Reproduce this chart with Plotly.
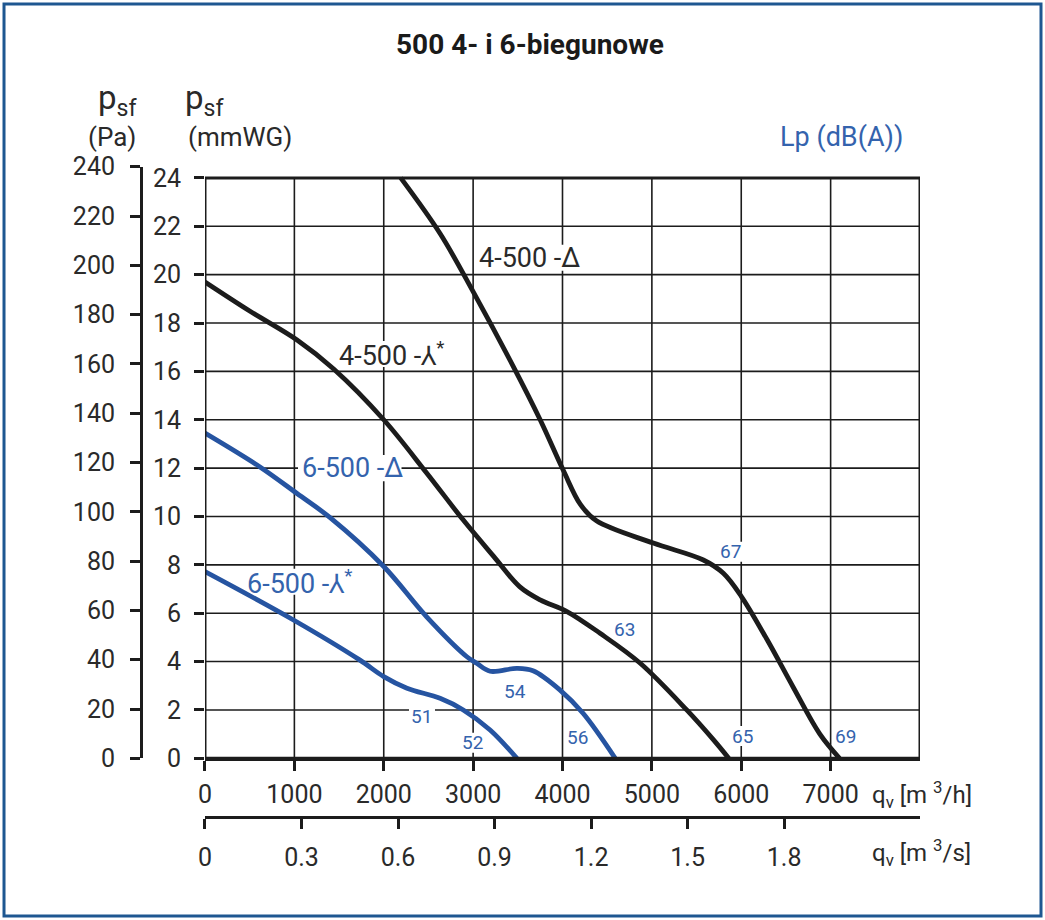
import plotly.graph_objects as go

# 4-500 delta (black, upper curve)
q_4d = [2190, 2630, 3000, 3450, 3750, 4010, 4200, 4380, 5016, 5576, 5800, 6000, 6290, 6580, 6880, 7100]
p_4d = [24, 21.7, 19.3, 16.2, 14.0, 11.9, 10.5, 9.82, 8.9, 8.2, 7.65, 6.7, 4.9, 2.95, 1.0, 0]

# 4-500 star (black, middle curve)
q_4y = [0, 500, 1030, 1440, 2000, 2480, 2890, 3230, 3520, 3750, 4050, 4420, 4870, 5390, 5690, 5860]
p_4y = [19.7, 18.5, 17.3, 16.1, 14.0, 11.8, 9.85, 8.35, 7.1, 6.55, 6.07, 5.17, 3.93, 2.0, 0.76, 0]

# 6-500 delta (blue, upper)
q_6d = [0, 615, 1030, 1400, 2000, 2480, 2930, 3040, 3190, 3490, 3670, 3970, 4230, 4590]
p_6d = [13.45, 12.05, 10.95, 9.95, 7.93, 5.85, 4.2, 3.93, 3.6, 3.72, 3.62, 2.83, 1.86, 0]

# 6-500 star (blue, lower)
q_6y = [0, 990, 1730, 2000, 2260, 2630, 2890, 3190, 3490]
p_6y = [7.72, 5.72, 4.07, 3.38, 2.9, 2.48, 2.0, 1.17, 0]

# sound level labels Lp dB(A)
lp_vals = ["67", "63", "54", "56", "51", "52", "65", "69"]
lp_q = [5875, 4689, 3469, 4163, 2428, 2988, 6009, 7162]
lp_p = [8.54, 5.31, 2.78, 0.84, 1.71, 0.64, 0.92, 0.92]

curve_names = ["4-500 -Δ", "4-500 -⅄<sup>*</sup>", "6-500 -Δ", "6-500 -⅄<sup>*</sup>"]
curve_chars = [8, 9, 8, 9]
curve_name_q = [3040, 1480, 1063, 448]
curve_name_p = [20.7, 16.72, 12.0, 7.3]

mmwg_ticks = list(range(0, 25, 2))
pa_ticks = list(range(0, 241, 20))
qh_ticks = list(range(0, 7001, 1000))
qs_ticks = [0, 0.3, 0.6, 0.9, 1.2, 1.5, 1.8]
qs_text = ["0", "0.3", "0.6", "0.9", "1.2", "1.5", "1.8"]

Q_MAX = 8000
P_MAX = 24
PA_PER_MMWG = 9.81
Q_PER_PX = Q_MAX / 715.0
P_PER_PX = 1 / 24.17

BLACK = "#1c1c1c"
BLUE = "#2654a1"
TXT_BLUE = "#3463ad"
TXT = "#2a2a2a"
FONT = "Roboto"

fig = go.Figure()
for q, p, c in [(q_4d, p_4d, BLACK), (q_4y, p_4y, BLACK), (q_6d, p_6d, BLUE), (q_6y, p_6y, BLUE)]:
    fig.add_trace(go.Scatter(x=q, y=p, mode="lines",
                             line=dict(color=c, width=4.8, shape="spline", smoothing=1.0),
                             hoverinfo="skip", showlegend=False))

# dummy traces so the extra (overlaid) axes get drawn
fig.add_trace(go.Scatter(x=[None], y=[None], yaxis="y2", showlegend=False, hoverinfo="skip"))
fig.add_trace(go.Scatter(x=[None], y=[None], xaxis="x2", showlegend=False, hoverinfo="skip"))

axis_common = dict(linecolor=BLACK, linewidth=3, ticks="outside", tickcolor=BLACK,
                   tickwidth=3, ticklen=10, tickfont=dict(family=FONT, size=25, color=TXT),
                   zeroline=False, fixedrange=True, automargin=False, showgrid=False)

fig.update_layout(
    width=1045, height=920,
    margin=dict(l=60, r=125, t=166, b=60),
    paper_bgcolor="white", plot_bgcolor="white",
    showlegend=False,
    xaxis=dict(domain=[0.1686, 1], range=[0, Q_MAX], tickvals=qh_ticks, showline=True,
               anchor="y", ticklabelstandoff=2, **axis_common),
    yaxis=dict(domain=[0.14654, 0.99899], range=[0, 240 / PA_PER_MMWG], tickvals=mmwg_ticks,
               showline=False, anchor="x", ticklabelstandoff=8, **axis_common),
    yaxis2=dict(overlaying="y", range=[0, 240], tickvals=pa_ticks, showline=True,
                anchor="free", position=0.0942, side="left", ticklabelstandoff=10, **axis_common),
    xaxis2=dict(overlaying="x", range=[0, Q_MAX / 3600], tickvals=qs_ticks, ticktext=qs_text,
                showline=True, anchor="free", position=0.0624, side="bottom", ticklabelstandoff=7,
                **axis_common),
)

# grid lines (only up to the top border at 24 mmWG)
for v in qh_ticks[1:]:
    fig.add_shape(type="line", xref="x", yref="y", x0=v, x1=v, y0=0, y1=P_MAX,
                  line=dict(color=BLACK, width=1.6), layer="below")
for v in mmwg_ticks[1:-1]:
    fig.add_shape(type="line", xref="x", yref="y", x0=0, x1=Q_MAX, y0=v, y1=v,
                  line=dict(color=BLACK, width=1.6), layer="below")
# plot border
fig.add_shape(type="rect", xref="x", yref="y", x0=0, x1=Q_MAX, y0=0, y1=P_MAX,
              line=dict(color=BLACK, width=3), layer="above")
# outer frame
fig.add_shape(type="rect", xref="paper", yref="paper", x0=-0.0651, x1=1.1407, y0=-0.0807, y1=1.2334,
              line=dict(color="#1e5791", width=3))


def label_bg(q, p, w_px, h_px, left=True):
    # white patch over the grid, kept under the curves
    x0 = q - 2 * Q_PER_PX if left else q - w_px / 2 * Q_PER_PX
    x1 = q + w_px * Q_PER_PX if left else q + w_px / 2 * Q_PER_PX
    fig.add_shape(type="rect", xref="x", yref="y", x0=x0, x1=x1,
                  y0=p - h_px * P_PER_PX, y1=p + h_px * P_PER_PX,
                  fillcolor="white", line=dict(width=0), layer="below")


for txt, n, q, p, c in zip(curve_names, curve_chars, curve_name_q, curve_name_p,
                           [TXT, TXT, TXT_BLUE, TXT_BLUE]):
    label_bg(q, p, n * 0.47 * 27, 13)
    fig.add_annotation(x=q, y=p, text=txt, showarrow=False, xanchor="left", yanchor="middle",
                       font=dict(family=FONT, size=27, color=c))

for txt, q, p in zip(lp_vals, lp_q, lp_p):
    label_bg(q, p, 26, 10, left=False)
    fig.add_annotation(x=q, y=p, text=txt, showarrow=False,
                       font=dict(family=FONT, size=19, color=TXT_BLUE))


def pann(text, x, y, size=26, color=TXT, xanchor="center", bold=False):
    fig.add_annotation(xref="paper", yref="paper", x=x, y=y, text=text, showarrow=False,
                       xanchor=xanchor, yanchor="middle",
                       font=dict(family=FONT, size=size, color=color, weight="bold" if bold else "normal"))


pann("500 4- i 6-biegunowe", 0.5465, 1.1744, size=28, color="#1a1a1a", bold=True)
pann("p<sub>sf</sub>", 0.0674, 1.0951, size=33)
pann("(Pa)", 0.0605, 1.0418)
pann("p<sub>sf</sub>", 0.1686, 1.0951, size=33)
pann("(mmWG)", 0.2093, 1.0418)
pann("Lp (dB(A))", 0.9093, 1.0418, size=27, color=TXT_BLUE)
pann("q<sub>v</sub> [m <sup>3</sup>/h]", 0.9419, 0.0937, size=24, xanchor="left")
pann("q<sub>v</sub> [m <sup>3</sup>/s]", 0.9419, 0.0115, size=24, xanchor="left")

fig.write_html("out.html", config={"displayModeBar": False},
               post_script="document.body.style.margin='0';document.body.style.overflow='hidden';")
